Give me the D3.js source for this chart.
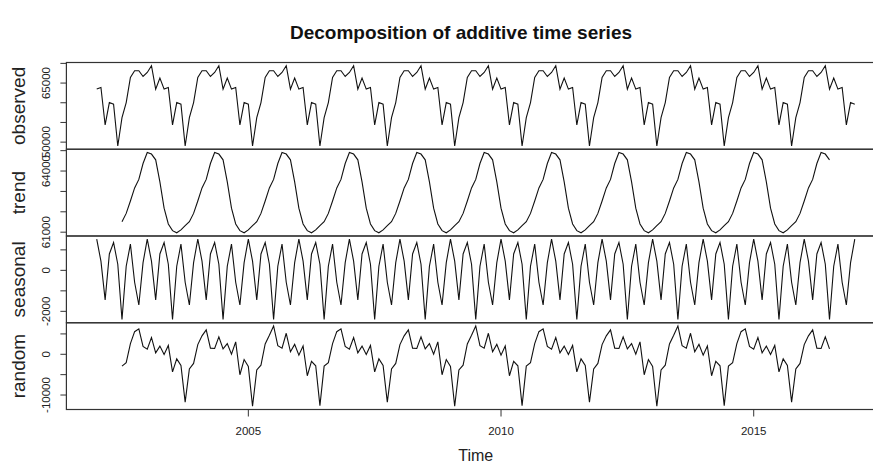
<!DOCTYPE html>
<html>
<head>
<meta charset="utf-8">
<script src="https://cdn.jsdelivr.net/npm/d3@7"></script>
<style>
  body { margin: 0; background: #fff; }
  svg { display: block; font-family: "Liberation Sans", Arial, sans-serif; }
</style>
</head>
<body>
<svg id="root" width="873" height="464"></svg>
<script>
"use strict";

// monthly series, starting Jan 2002
const startYear = 2002;
const frequency = 12;

const observed = [
  63470, 63880, 54360, 60050, 59640, 49010, 56220, 60050, 66430, 68140, 68140, 66680, 67700, 69410, 63470, 66280,
  63470, 63880, 54360, 60050, 59640, 49010, 56220, 60050, 66430, 68140, 68140, 66680, 67700, 69410, 63470, 66280,
  63470, 63880, 54360, 60050, 59640, 49010, 56220, 60050, 66430, 68140, 68140, 66680, 67700, 69410, 63470, 66280,
  63470, 63880, 54360, 60050, 59640, 49010, 56220, 60050, 66430, 68140, 68140, 66680, 67700, 69410, 63470, 66280,
  63470, 63880, 54360, 60050, 59640, 49010, 56220, 60050, 66430, 68140, 68140, 66680, 67700, 69410, 63470, 66280,
  63470, 63880, 54360, 60050, 59640, 49010, 56220, 60050, 66430, 68140, 68140, 66680, 67700, 69410, 63470, 66280,
  63470, 63880, 54360, 60050, 59640, 49010, 56220, 60050, 66430, 68140, 68140, 66680, 67700, 69410, 63470, 66280,
  63470, 63880, 54360, 60050, 59640, 49010, 56220, 60050, 66430, 68140, 68140, 66680, 67700, 69410, 63470, 66280,
  63470, 63880, 54360, 60050, 59640, 49010, 56220, 60050, 66430, 68140, 68140, 66680, 67700, 69410, 63470, 66280,
  63470, 63880, 54360, 60050, 59640, 49010, 56220, 60050, 66430, 68140, 68140, 66680, 67700, 69410, 63470, 66280,
  63470, 63880, 54360, 60050, 59640, 49010, 56220, 60050, 66430, 68140, 68140, 66680, 67700, 69410, 63470, 66280,
  63470, 63880, 54360, 60050, 59640,
];

const trend = [
  null, null, null, null, null, null,
  61515, 61922, 62532, 63171, 63590, 64370, 64912, 64834, 64551, 63471,
  62178, 61405, 61075, 60970, 61111, 61323, 61515, 61922, 62532, 63171, 63590, 64370, 64912, 64834, 64551, 63471,
  62178, 61405, 61075, 60970, 61111, 61323, 61515, 61922, 62532, 63171, 63590, 64370, 64912, 64834, 64551, 63471,
  62178, 61405, 61075, 60970, 61111, 61323, 61515, 61922, 62532, 63171, 63590, 64370, 64912, 64834, 64551, 63471,
  62178, 61405, 61075, 60970, 61111, 61323, 61515, 61922, 62532, 63171, 63590, 64370, 64912, 64834, 64551, 63471,
  62178, 61405, 61075, 60970, 61111, 61323, 61515, 61922, 62532, 63171, 63590, 64370, 64912, 64834, 64551, 63471,
  62178, 61405, 61075, 60970, 61111, 61323, 61515, 61922, 62532, 63171, 63590, 64370, 64912, 64834, 64551, 63471,
  62178, 61405, 61075, 60970, 61111, 61323, 61515, 61922, 62532, 63171, 63590, 64370, 64912, 64834, 64551, 63471,
  62178, 61405, 61075, 60970, 61111, 61323, 61515, 61922, 62532, 63171, 63590, 64370, 64912, 64834, 64551, 63471,
  62178, 61405, 61075, 60970, 61111, 61323, 61515, 61922, 62532, 63171, 63590, 64370, 64912, 64834, 64551, 63471,
  62178, 61405, 61075, 60970, 61111, 61323, 61515, 61922, 62532, 63171, 63590, 64370, 64912, 64834, 64551,
  null, null, null, null, null, null,
];

const seasonal = [
  1520, 450, -1440, 800, 1360, 300, -2400, 200, 1280, -580, -1690, 380,
  1520, 450, -1440, 800, 1360, 300, -2400, 200, 1280, -580, -1690, 380,
  1520, 450, -1440, 800, 1360, 300, -2400, 200, 1280, -580, -1690, 380,
  1520, 450, -1440, 800, 1360, 300, -2400, 200, 1280, -580, -1690, 380,
  1520, 450, -1440, 800, 1360, 300, -2400, 200, 1280, -580, -1690, 380,
  1520, 450, -1440, 800, 1360, 300, -2400, 200, 1280, -580, -1690, 380,
  1520, 450, -1440, 800, 1360, 300, -2400, 200, 1280, -580, -1690, 380,
  1520, 450, -1440, 800, 1360, 300, -2400, 200, 1280, -580, -1690, 380,
  1520, 450, -1440, 800, 1360, 300, -2400, 200, 1280, -580, -1690, 380,
  1520, 450, -1440, 800, 1360, 300, -2400, 200, 1280, -580, -1690, 380,
  1520, 450, -1440, 800, 1360, 300, -2400, 200, 1280, -580, -1690, 380,
  1520, 450, -1440, 800, 1360, 300, -2400, 200, 1280, -580, -1690, 380,
  1520, 450, -1440, 800, 1360, 300, -2400, 200, 1280, -580, -1690, 380,
  1520, 450, -1440, 800, 1360, 300, -2400, 200, 1280, -580, -1690, 380,
  1520, 450, -1440, 800, 1360, 300, -2400, 200, 1280, -580, -1690, 380,
  1520,
];

const random = [
  null, null, null, null, null, null,
  -2895, -2072, 2618, 5549, 6240, 1930, 1268, 4126, 359, 2009,
  -68, 2175, -4315, -1120, -2751, -11733, -3605, -2252, 2378, 4519, 5990, 1510, 1428, 4276, 1319, 2609,
  12, 3055, -5025, -1300, -2991, -12763, -3855, -2672, 2538, 4669, 6950, 2110, 1508, 5156, 609, 2429,
  -228, 2025, -5275, -1720, -2831, -12613, -2895, -2072, 2618, 5549, 6240, 1930, 1268, 4126, 359, 2009,
  -68, 2175, -4315, -1120, -2751, -11733, -3605, -2252, 2378, 4519, 5990, 1510, 1428, 4276, 1319, 2609,
  12, 3055, -5025, -1300, -2991, -12763, -3855, -2672, 2538, 4669, 6950, 2110, 1508, 5156, 609, 2429,
  -228, 2025, -5275, -1720, -2831, -12613, -2895, -2072, 2618, 5549, 6240, 1930, 1268, 4126, 359, 2009,
  -68, 2175, -4315, -1120, -2751, -11733, -3605, -2252, 2378, 4519, 5990, 1510, 1428, 4276, 1319, 2609,
  12, 3055, -5025, -1300, -2991, -12763, -3855, -2672, 2538, 4669, 6950, 2110, 1508, 5156, 609, 2429,
  -228, 2025, -5275, -1720, -2831, -12613, -2895, -2072, 2618, 5549, 6240, 1930, 1268, 4126, 359, 2009,
  -68, 2175, -4315, -1120, -2751, -11733, -3605, -2252, 2378, 4519, 5990, 1510, 1428, 4276, 1319,
  null, null, null, null, null, null,
];

const panelNames = ["observed", "trend", "seasonal", "random"];
const panelSeries = [observed, trend, seasonal, random];
const panelTicks = [
  [50000, 55000, 60000, 65000, 70000],
  [61000, 62000, 63000, 64000, 65000],
  [-2000, -1000, 0, 1000],
  [-10000, -5000, 0, 5000],
];
const panelTickLabels = [
  [50000, 65000],
  [61000, 64000],
  [-2000, 0],
  [-10000, 0],
];
const yearTicks = [2005, 2010, 2015];

const svg = d3.select("#root");
const plotLeft = 66.4;
const plotRight = 885.1;
const plotTop = 62.5;
const plotBottom = 409.5;
const panelHeight = (plotBottom - plotTop) / panelNames.length;
const tickLen = 6;
const lineColor = "#333";

svg.append("rect").attr("width", 873).attr("height", 464).attr("fill", "#fff");

// time axis, padded 4% like R
const timeOf = (i) => startYear + i / frequency;
const tMin = timeOf(0);
const tMax = timeOf(observed.length - 1);
const tPad = (tMax - tMin) * 0.04;
const xScale = d3
  .scaleLinear()
  .domain([tMin - tPad, tMax + tPad])
  .range([plotLeft, plotRight]);

svg
  .append("text")
  .attr("x", 461)
  .attr("y", 39)
  .attr("text-anchor", "middle")
  .attr("font-size", "19px")
  .attr("font-weight", "bold")
  .attr("fill", "#111")
  .text("Decomposition of additive time series");

panelSeries.forEach((series, k) => {
  const top = plotTop + k * panelHeight;
  const bottom = top + panelHeight;
  const ext = d3.extent(series.filter((v) => v != null));
  const pad = (ext[1] - ext[0]) * 0.04;
  const yScale = d3
    .scaleLinear()
    .domain([ext[0] - pad, ext[1] + pad])
    .range([bottom, top]);

  const g = svg.append("g");

  // line
  const line = d3
    .line()
    .defined((d) => d != null)
    .x((d, i) => xScale(timeOf(i)))
    .y((d) => yScale(d));
  g.append("path")
    .datum(series)
    .attr("d", line)
    .attr("fill", "none")
    .attr("stroke", "#111")
    .attr("stroke-width", 1.1)
    .attr("stroke-linejoin", "miter");

  // ticks inside the domain
  const ticks = panelTicks[k].filter((v) => v >= yScale.domain()[0] && v <= yScale.domain()[1]);
  g.selectAll("line.tick")
    .data(ticks)
    .join("line")
    .attr("class", "tick")
    .attr("x1", plotLeft - tickLen)
    .attr("x2", plotLeft)
    .attr("y1", (d) => yScale(d))
    .attr("y2", (d) => yScale(d))
    .attr("stroke", lineColor)
    .attr("stroke-width", 1);

  g.selectAll("text.ticklabel")
    .data(panelTickLabels[k])
    .join("text")
    .attr("class", "ticklabel")
    .attr("transform", (d) => `translate(50, ${yScale(d)}) rotate(-90)`)
    .attr("text-anchor", "middle")
    .attr("font-size", "11.5px")
    .attr("fill", "#222")
    .text((d) => String(d));

  // panel name
  g.append("text")
    .attr("transform", `translate(25, ${(top + bottom) / 2}) rotate(-90)`)
    .attr("text-anchor", "middle")
    .attr("font-size", "19px")
    .attr("fill", "#222")
    .text(panelNames[k]);

  // box
  g.append("rect")
    .attr("x", plotLeft)
    .attr("y", top)
    .attr("width", plotRight - plotLeft)
    .attr("height", panelHeight)
    .attr("fill", "none")
    .attr("stroke", lineColor)
    .attr("stroke-width", 1.2);
});

// bottom time axis
const axisG = svg.append("g");
axisG
  .selectAll("line")
  .data(yearTicks)
  .join("line")
  .attr("x1", (d) => xScale(d))
  .attr("x2", (d) => xScale(d))
  .attr("y1", plotBottom)
  .attr("y2", plotBottom + tickLen + 1)
  .attr("stroke", lineColor)
  .attr("stroke-width", 1);
axisG
  .selectAll("text")
  .data(yearTicks)
  .join("text")
  .attr("x", (d) => xScale(d))
  .attr("y", 435)
  .attr("text-anchor", "middle")
  .attr("font-size", "11.5px")
  .attr("fill", "#222")
  .text((d) => d);

svg
  .append("text")
  .attr("x", (plotLeft + plotRight) / 2)
  .attr("y", 461)
  .attr("text-anchor", "middle")
  .attr("font-size", "16px")
  .attr("fill", "#222")
  .text("Time");
</script>
</body>
</html>
